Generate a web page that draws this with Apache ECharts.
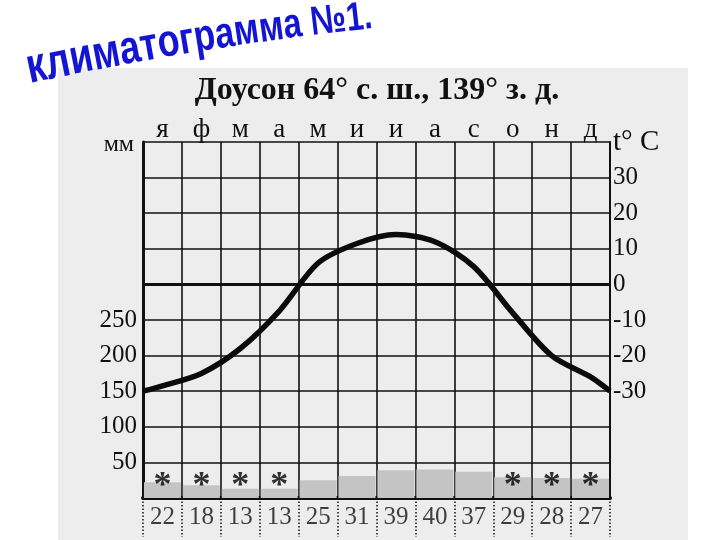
<!DOCTYPE html>
<html><head><meta charset="utf-8">
<script src="https://cdn.jsdelivr.net/npm/echarts@6/dist/echarts.min.js"></script>
<style>html,body{margin:0;padding:0;background:#fff}#c{width:720px;height:540px}</style>
</head><body><div id="c"></div>
<script>
const months = ['я','ф','м','а','м','и','и','а','с','о','н','д'];
const precipitation = [22,18,13,13,25,31,39,40,37,29,28,27];
const temperature = [-28.5,-25,-18,-7.5,6,11.5,14,12,5,-8,-20,-26];
const temperatureLeftEdge = -30;
const temperatureRightEdge = -30;
const snowMonths = [true,true,true,true,false,false,false,false,false,true,true,true];
const mmTickLabels = [50,100,150,200,250];
const tempTickLabels = [-30,-20,-10,0,10,20,30];
const titleText = 'климатограмма №1.';
const subtitleText = 'Доусон 64° с. ш., 139° з. д.';

const SERIF = '"Liberation Serif", "DejaVu Serif", serif';
const INK = '#111';

// curved blue title, laid out char by char
const cv = document.createElement('canvas').getContext('2d');
const titleEls = [];
(function(){
  let x = 30, y = 84;
  const chars = Array.from(titleText);
  const n = chars.length;
  chars.forEach((ch, i) => {
    const t = i / (n - 1);
    const fs = 39.5 - 8 * t;
    const angDeg = 12 - 6 * t;
    const ang = angDeg * Math.PI / 180;
    const font = 'bold ' + fs + 'px "Liberation Sans", Arial, sans-serif';
    cv.font = font;
    const w = cv.measureText(ch).width * 0.98;
    titleEls.push({
      type: 'text', x: x, y: y, rotation: ang, scaleY: 1.25, scaleX: 0.98, z: 100,
      style: { text: ch, x: 0, y: 0.21 * fs, fill: '#1414d4', font: font,
        textAlign: 'left', textVerticalAlign: 'bottom' }
    });
    x += w * Math.cos(ang);
    y -= w * Math.sin(ang);
  });
})();

const chart = echarts.init(document.getElementById('c'), null, {renderer: 'canvas'});
chart.setOption({
  animation: false,
  backgroundColor: '#fff',
  title: {
    text: subtitleText, left: 372, top: 70, textAlign: 'center',
    textStyle: { fontFamily: SERIF, fontSize: 32, fontWeight: 'bold', color: INK }
  },
  graphic: [
    { type: 'rect', z: -100, shape: { x: 58, y: 68, width: 630, height: 472 },
      style: { fill: '#ededed' } }
  ].concat(titleEls),
  grid: [
    { left: 143, right: 110, top: 142, height: 356 },
    { left: 143, right: 110, top: 498, height: 39 }
  ],
  xAxis: [
    { type: 'category', gridIndex: 0, data: months, position: 'top', boundaryGap: true,
      axisLine: { show: true, lineStyle: { color: INK, width: 2.5 } },
      axisTick: { show: false },
      axisLabel: { fontFamily: SERIF, fontSize: 27, color: INK, margin: -1 },
      splitLine: { show: true, lineStyle: { color: INK, width: 1.6 } } },
    { type: 'value', gridIndex: 0, min: 0, max: 12, position: 'bottom',
      axisLine: { show: true, onZero: false, lineStyle: { color: INK, width: 4 } },
      axisTick: { show: false }, axisLabel: { show: false }, splitLine: { show: false } },
    { type: 'category', gridIndex: 1, data: months, boundaryGap: true,
      axisLine: { show: false }, axisTick: { show: false }, axisLabel: { show: false },
      splitLine: { show: true, lineStyle: { color: INK, width: 1.5, type: [1.5, 2] } } }
  ],
  yAxis: [
    { type: 'value', gridIndex: 0, min: 0, max: 500, interval: 50,
      name: 'мм', nameLocation: 'end', nameGap: -3,
      nameTextStyle: { fontFamily: SERIF, fontSize: 24, color: INK, align: 'right', verticalAlign: 'middle', padding: [0, 9, 0, 0] },
      axisLine: { show: true, onZero: false, lineStyle: { color: INK, width: 3 } },
      axisTick: { show: false },
      axisLabel: { fontFamily: SERIF, fontSize: 25, color: INK, margin: 6,
        formatter: v => mmTickLabels.includes(v) ? String(v) : '' },
      splitLine: { show: true, lineStyle: { color: INK, width: 1.6 } } },
    { type: 'value', gridIndex: 0, min: -60, max: 40, interval: 10, position: 'right',
      name: 't° C', nameLocation: 'end', nameGap: 0,
      nameTextStyle: { fontFamily: SERIF, fontSize: 29, color: INK, align: 'left', verticalAlign: 'middle', padding: [0, 0, 20, 3] },
      axisLine: { show: true, onZero: false, lineStyle: { color: INK, width: 2 } },
      axisTick: { show: false },
      axisLabel: { fontFamily: SERIF, fontSize: 25, color: INK, margin: 3,
        formatter: v => tempTickLabels.includes(v) ? String(v) : '' },
      splitLine: { show: false } },
    { type: 'value', gridIndex: 1, min: 0, max: 1, show: false }
  ],
  series: [
    { type: 'bar', xAxisIndex: 0, yAxisIndex: 0, data: precipitation, barWidth: '95%',
      itemStyle: { color: '#c4c4c4' }, z: 1, silent: true },
    { type: 'scatter', xAxisIndex: 0, yAxisIndex: 0, symbolSize: 0,
      data: snowMonths.map((s, i) => s ? [i, 26] : null).filter(d => d),
      label: { show: true, position: 'inside', formatter: '*', fontFamily: SERIF,
        fontSize: 36, fontWeight: 'bold', color: '#000', offset: [0, 7] } },
    { type: 'line', xAxisIndex: 1, yAxisIndex: 1, smooth: 0.3, symbol: 'none',
      data: [[0, temperatureLeftEdge]].concat(temperature.map((t, i) => [i + 0.5, t]), [[12, temperatureRightEdge]]),
      lineStyle: { color: '#0b0b0b', width: 5.5 }, z: 5,
      markLine: { silent: true, symbol: ['none', 'none'], label: { show: false },
        lineStyle: { color: INK, width: 3, type: 'solid' }, data: [{ yAxis: 0 }] } },
    { type: 'scatter', xAxisIndex: 2, yAxisIndex: 2, symbolSize: 0,
      data: precipitation.map((v, i) => [i, 0.5]),
      label: { show: true, position: 'inside', fontFamily: SERIF, fontSize: 25, color: INK,
        formatter: p => String(precipitation[p.dataIndex]) } }
  ]
});
</script></body></html>
